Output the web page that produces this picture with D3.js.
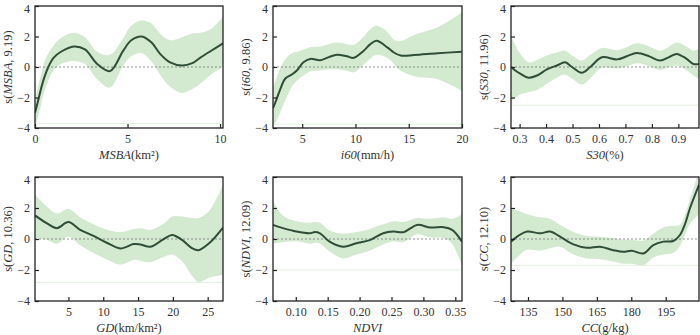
<!DOCTYPE html>
<html>
<head>
<meta charset="utf-8">
<script src="https://cdn.jsdelivr.net/npm/d3@7"></script>
<style>
  body { margin: 0; background: #fff; }
  text { font-family: "Liberation Serif", "Times New Roman", serif; }
</style>
</head>
<body>
<div id="chart"></div>
<script>
// ---- data ----
// MSBA
var msbaX     = [0, 0.15, 0.3, 0.5, 0.72, 1.0, 1.4, 2.1, 2.7, 3.36, 4.05, 4.77, 5.2, 5.77, 6.3, 6.76, 7.3, 7.93, 8.5, 8.92, 9.5, 10.16];
var msbaFit   = [-3.0, -2.3, -1.55, -0.7, 0.0, 0.6, 1.0, 1.35, 1.15, 0.2, -0.27, 1.07, 1.75, 2.0, 1.6, 0.86, 0.3, 0.1, 0.25, 0.6, 1.05, 1.55];
var msbaUpper = [-2.2, -1.4, -0.6, 0.3, 0.9, 1.4, 1.9, 2.25, 1.95, 1.0, 0.8, 1.9, 2.7, 3.05, 2.85, 2.2, 1.75, 1.95, 2.2, 2.25, 2.5, 3.3];
var msbaLower = [-3.9, -3.3, -2.6, -1.6, -0.9, -0.2, 0.2, 0.4, 0.2, -0.8, -1.35, 0.1, 0.7, 0.9, 0.35, -0.5, -1.3, -1.7, -1.45, -1.1, -0.5, 0.0];
// i60
var i60X     = [2.26, 2.6, 2.92, 3.4, 4.03, 4.5, 5.12, 5.75, 6.7, 7.5, 8.27, 9.2, 9.84, 10.78, 11.4, 11.98, 12.99, 13.6, 14.25, 15.5, 17.7, 19.97];
var i60Fit   = [-2.7, -2.1, -1.5, -0.77, -0.49, -0.23, 0.31, 0.53, 0.45, 0.65, 0.81, 0.7, 0.6, 1.07, 1.5, 1.72, 1.29, 0.95, 0.75, 0.78, 0.9, 1.0];
var i60Upper = [-1.3, -0.7, -0.1, 0.5, 0.9, 1.0, 1.15, 1.3, 1.35, 1.5, 1.6, 1.5, 1.45, 2.0, 2.5, 2.7, 2.3, 1.8, 1.7, 2.1, 2.6, 3.55];
var i60Lower = [-3.9, -3.5, -3.0, -2.2, -1.3, -0.9, -0.55, -0.3, -0.23, -0.15, -0.15, -0.25, -0.35, 0.15, 0.55, 0.8, 0.6, 0.2, -0.25, -0.6, -0.8, -1.55];
// S30
var s30X     = [0.2675, 0.285, 0.3025, 0.334, 0.366, 0.403, 0.441, 0.472, 0.498, 0.535, 0.567, 0.611, 0.668, 0.705, 0.743, 0.79, 0.831, 0.865, 0.894, 0.93, 0.957, 0.978];
var s30Fit   = [0.0, -0.25, -0.44, -0.7, -0.56, -0.16, 0.1, 0.31, 0.0, -0.38, 0.0, 0.64, 0.5, 0.7, 0.92, 0.7, 0.42, 0.65, 0.86, 0.55, 0.2, 0.2];
var s30Upper = [2.05, 1.4, 0.87, 0.31, 0.45, 0.75, 0.95, 1.07, 0.75, 0.42, 0.8, 1.25, 1.1, 1.3, 1.55, 1.35, 1.07, 1.35, 1.6, 1.35, 1.07, 1.2];
var s30Lower = [-2.3, -2.0, -1.8, -1.65, -1.5, -1.1, -0.7, -0.5, -0.75, -1.15, -0.75, -0.05, -0.1, 0.05, 0.25, 0.05, -0.2, 0.0, 0.1, -0.2, -0.55, -0.77];
// GD
var gdX     = [0.2, 1.88, 3.33, 5.0, 6.68, 8.6, 10.5, 12.45, 14.35, 15.3, 16.8, 18.7, 19.9, 21.35, 22.8, 23.7, 25.2, 27.2];
var gdFit   = [1.52, 1.02, 0.7, 1.09, 0.59, 0.2, -0.24, -0.61, -0.33, -0.35, -0.5, 0.0, 0.26, -0.07, -0.61, -0.72, -0.28, 0.74];
var gdUpper = [2.87, 2.1, 1.65, 1.95, 1.4, 0.95, 0.6, 0.45, 0.65, 0.7, 0.6, 1.0, 1.45, 1.45, 1.35, 1.35, 1.8, 3.5];
var gdLower = [0.05, -0.05, -0.3, 0.15, -0.4, -0.9, -1.3, -1.65, -1.35, -1.4, -1.5, -1.15, -1.0, -1.45, -2.4, -2.78, -2.5, -2.3];
// NDVI
var ndviX     = [0.0643, 0.08, 0.101, 0.122, 0.13, 0.138, 0.153, 0.174, 0.195, 0.216, 0.237, 0.253, 0.269, 0.29, 0.311, 0.332, 0.345, 0.3605];
var ndviFit   = [0.91, 0.7, 0.48, 0.37, 0.45, 0.37, -0.17, -0.5, -0.28, -0.07, 0.37, 0.48, 0.44, 0.91, 0.74, 0.76, 0.59, -0.17];
var ndviUpper = [2.45, 1.5, 1.15, 1.05, 1.1, 1.05, 0.55, 0.35, 0.45, 0.65, 0.95, 1.15, 1.1, 1.35, 1.3, 1.4, 1.3, 1.6];
var ndviLower = [-0.3, -0.2, -0.15, -0.3, -0.25, -0.3, -0.8, -1.25, -1.0, -0.75, -0.35, -0.15, -0.2, 0.3, 0.1, 0.05, -0.3, -1.75];
// CC
var ccX     = [127.6, 130.9, 134.6, 140.3, 144.7, 149, 154.8, 160.6, 166.4, 172.2, 176.6, 180.2, 185.3, 189.6, 194, 198.3, 201.2, 203.5, 205.6, 209.5];
var ccFit   = [-0.17, 0.22, 0.48, 0.37, 0.48, 0.15, -0.35, -0.57, -0.5, -0.72, -0.83, -0.76, -0.93, -0.39, -0.17, -0.13, 0.26, 1.0, 2.0, 3.5];
var ccUpper = [2.0, 1.8, 1.6, 1.4, 1.3, 0.9, 0.45, 0.2, 0.15, 0.05, -0.05, -0.05, -0.1, 0.35, 0.75, 0.85, 0.9, 1.6, 2.6, 4.4];
var ccLower = [-1.6, -1.1, -0.7, -0.75, -0.6, -0.5, -1.0, -1.25, -1.3, -1.45, -1.6, -1.6, -1.7, -1.2, -1.0, -0.9, -0.45, 0.3, 1.0, 1.6];

// axis ranges and tick labels
var xDomains = [[0, 10.16], [2.26, 20], [0.2675, 0.978], [0.2, 27.2], [0.0643, 0.3605], [127.6, 209.5]];
var xTicks = [[0, 5, 10], [5, 10, 15, 20], [0.3, 0.4, 0.5, 0.6, 0.7, 0.8, 0.9], [5, 10, 15, 20, 25],
              [0.10, 0.15, 0.20, 0.25, 0.30, 0.35], [135, 150, 165, 180, 195]];
var yTicks = [-4, -2, 0, 2, 4];
var floorLines = [-3.7, -3.75, -2.5, -2.8, -2.0, -1.7];
// label parts: [italic, plain]
var yNames = [["MSBA", ", 9.19)"], ["i60", ", 9.86)"], ["S30", ", 11.96)"], ["GD", ", 10.36)"], ["NDVI", ", 12.09)"], ["CC", ", 12.10)"]];
var xNames = [["MSBA", "(km²)"], ["i60", "(mm/h)"], ["S30", "(%)"], ["GD", "(km/km²)"], ["NDVI", ""], ["CC", "(g/kg)"]];

var panels = [
  {x: msbaX, fit: msbaFit, up: msbaUpper, lo: msbaLower, fmt: d3.format("d")},
  {x: i60X, fit: i60Fit, up: i60Upper, lo: i60Lower, fmt: d3.format("d")},
  {x: s30X, fit: s30Fit, up: s30Upper, lo: s30Lower, fmt: d3.format(".1f")},
  {x: gdX, fit: gdFit, up: gdUpper, lo: gdLower, fmt: d3.format("d")},
  {x: ndviX, fit: ndviFit, up: ndviUpper, lo: ndviLower, fmt: d3.format(".2f")},
  {x: ccX, fit: ccFit, up: ccUpper, lo: ccLower, fmt: d3.format("d")}
];

// layout
var cols = [[35, 223], [273, 462], [511, 699]];
var rows = [[6, 128], [177, 301]];

var svg = d3.select("#chart").append("svg")
    .attr("width", 700)
    .attr("height", 335);

panels.forEach(function(p, i) {
  var c = cols[i % 3], r = rows[Math.floor(i / 3)];
  var xScale = d3.scaleLinear().domain(xDomains[i]).range(c);
  var yScale = d3.scaleLinear().domain([-4, 4]).range([r[1], r[0]]);
  var pts = p.x.map(function(v, k) { return {x: v, fit: p.fit[k], up: p.up[k], lo: p.lo[k]}; });

  var g = svg.append("g");
  g.append("clipPath").attr("id", "clip" + i)
    .append("rect").attr("x", c[0]).attr("y", r[0]).attr("width", c[1] - c[0]).attr("height", r[1] - r[0]);
  var inner = g.append("g").attr("clip-path", "url(#clip" + i + ")");

  // confidence band
  inner.append("path").datum(pts)
    .attr("d", d3.area().curve(d3.curveCatmullRom)
      .x(function(d) { return xScale(d.x); })
      .y0(function(d) { return yScale(d.lo); })
      .y1(function(d) { return yScale(d.up); }))
    .style("fill", "#d3ead0");

  // faint floor line
  inner.append("line")
    .attr("x1", c[0]).attr("x2", c[1])
    .attr("y1", yScale(floorLines[i])).attr("y2", yScale(floorLines[i]))
    .style("stroke", "#e3f0df").style("stroke-width", 1);

  // zero line
  inner.append("line")
    .attr("x1", c[0]).attr("x2", c[1])
    .attr("y1", yScale(0)).attr("y2", yScale(0))
    .style("stroke", "#777").style("stroke-width", 0.8).style("stroke-dasharray", "2,2");

  // smooth fit
  inner.append("path").datum(pts)
    .attr("d", d3.line().curve(d3.curveCatmullRom)
      .x(function(d) { return xScale(d.x); })
      .y(function(d) { return yScale(d.fit); }))
    .style("fill", "none").style("stroke", "#2f4d37").style("stroke-width", 2);

  // axes
  var xAxis = d3.axisBottom(xScale).tickValues(xTicks[i]).tickFormat(p.fmt).tickSize(-4).tickPadding(6);
  var yAxis = d3.axisLeft(yScale).tickValues(yTicks).tickSize(-4).tickPadding(5);
  var gx = g.append("g").attr("transform", "translate(0," + r[1] + ")").call(xAxis);
  var gy = g.append("g").attr("transform", "translate(" + c[0] + ",0)").call(yAxis);
  [gx, gy].forEach(function(a) {
    a.select(".domain").remove();
    a.selectAll("line").style("stroke", "#222").style("stroke-width", 1.2);
    a.selectAll("text").style("font-size", "12px").style("fill", "#333")
      .style("font-family", "'Liberation Serif', serif");
  });
  // keep the top "4" inside the picture
  gy.selectAll("text").filter(function(d) { return d === 4; }).attr("dy", "0.5em");

  // frame
  g.append("rect")
    .attr("x", c[0]).attr("y", r[0]).attr("width", c[1] - c[0]).attr("height", r[1] - r[0])
    .style("fill", "none").style("stroke", "#222").style("stroke-width", 1.3);

  // x label
  var xl = g.append("text")
    .attr("x", (c[0] + c[1]) / 2).attr("y", r[1] + 31)
    .attr("text-anchor", "middle").style("font-size", "12.5px").style("fill", "#333");
  xl.append("tspan").style("font-style", "italic").text(xNames[i][0]);
  xl.append("tspan").text(xNames[i][1]);

  // y label
  var cy = (r[0] + r[1]) / 2;
  var yl = g.append("text")
    .attr("transform", "translate(" + (c[0] - 23) + "," + cy + ") rotate(-90)")
    .attr("text-anchor", "middle").style("font-size", "12.5px").style("fill", "#333");
  yl.append("tspan").text("s(");
  yl.append("tspan").style("font-style", "italic").text(yNames[i][0]);
  yl.append("tspan").text(yNames[i][1]);
});
</script>
</body>
</html>
